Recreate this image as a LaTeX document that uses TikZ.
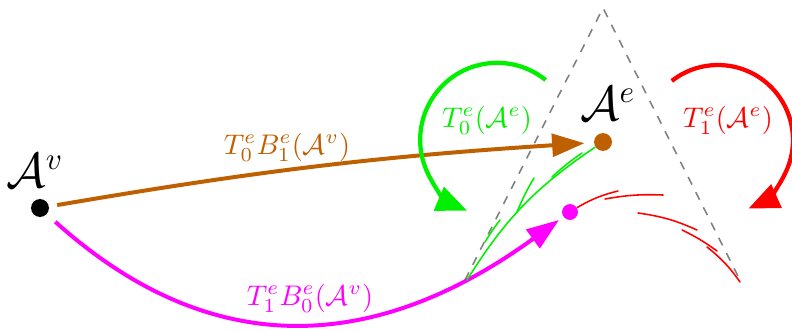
\documentclass[tikz,border=0pt]{standalone}
\usepackage{amsmath,amssymb}
\usepackage{tikz}
\usetikzlibrary{arrows.meta,positioning,calc}
\definecolor{mBrown}{RGB}{191,96,0}
\definecolor{mMag}{RGB}{255,0,255}
\definecolor{mGreen}{RGB}{0,240,0}
\tikzset{
  mapln/.style={-{Triangle[length=4mm,width=2.8mm]}, line width=1.4pt},
  loopln/.style={-{Triangle[length=3.8mm,width=3.1mm]}, line width=1.5pt},
  edgeln/.style={dashed, gray, line width=0.55pt},
  sketch/.style={line width=0.55pt, line cap=round},
  dotnd/.style={circle, fill, inner sep=0pt, minimum size=6.3pt},
  biglbl/.style={font=\fontsize{16}{19}\selectfont},
}

\begin{document}
\begin{tikzpicture}[x=0.495cm, y=0.495cm]
    \useasboundingbox (0,0) rectangle (19.8,8.25);
    % the triangle of the edge
    \draw[edgeln] (11.625,1.25) -- (15.075,8.05) -- (18.5,1.25);
    % points
    \node[dotnd, black] (av) at (1.0,3.05) {};
    \node[dotnd, mBrown] (ae) at (15.075,4.7) {};
    \node[dotnd, mMag, minimum size=5.6pt] (mdot) at (14.25,2.95) {};
    \node[biglbl] at (0.88,3.98) {$\mathcal{A}^v$};
    \node[biglbl] at (15.2,5.65) {$\mathcal{A}^e$};
    % the two images of the fixed point
    \draw[mapln, mBrown, shorten <=2.8pt, shorten >=3.2pt]
      (av) to[bend left=3] (ae);
    \draw[mapln, mMag, shorten <=3.9pt, shorten >=1.8pt]
      (av) to[out=-42, in=-144, looseness=1.12] (mdot);
    \node[mBrown] at (7.175,4.575) {$T_0^eB_1^e(\mathcal{A}^v)$};
    \node[mMag] at (7.75,0.8) {$T_1^eB_0^e(\mathcal{A}^v)$};
    % the maps T_0 and T_1 on the edge
    \coordinate (g0) at (13.64,6.25);
    \coordinate (r0) at (16.795,6.227);
    \draw[loopln, mGreen] (g0) arc[start angle=51, end angle=247, radius=1.925];
    \draw[loopln, red] (r0) arc[start angle=128, end angle=-66, radius=1.875];
    \node[mGreen] at (12.175,5.25) {$T_0^e(\mathcal{A}^e)$};
    \node[red] at (18.2,5.25) {$T_1^e(\mathcal{A}^e)$};
    % sketch of the attractor pieces
    \draw[sketch, mGreen] (ae) to[bend right=12] (11.675,1.25);
    \draw[sketch, mGreen] (14.55,4.425) to[bend right=4] (13.8,3.825);
    \draw[sketch, mGreen] (13.35,3.8) to[bend right=4] (12.925,2.95);
    \draw[sketch, mGreen] (12.5,2.75) to[bend right=3] (12.125,2.2);
    \draw[sketch, red] (mdot) to[bend left=8] (15.45,3.475);
    \draw[sketch, red] (15.125,3.275) to[bend left=6] (16.575,3.375);
    \draw[sketch, red] (15.95,2.925) to[bend left=8] (17.425,2.5);
    \draw[sketch, red] (17.05,2.5) to[bend left=5] (17.925,1.975);
    \draw[sketch, red] (17.675,2.075) to[bend left=8] (18.5,1.2);
\end{tikzpicture}
\end{document}
